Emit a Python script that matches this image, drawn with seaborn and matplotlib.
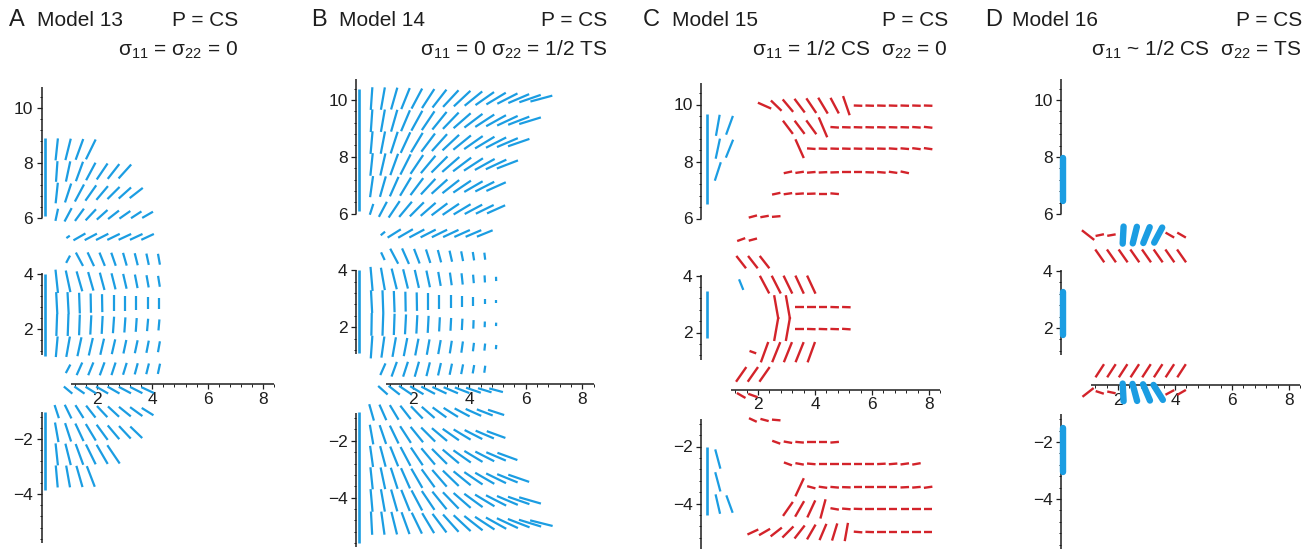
import numpy as np
import pandas as pd
import matplotlib
matplotlib.use("Agg")
import matplotlib.pyplot as plt
import seaborn as sns

sns.set_style("white")
plt.rcParams["font.family"] = ["Liberation Sans", "DejaVu Sans"]
plt.rcParams["mathtext.fontset"] = "custom"
plt.rcParams["mathtext.rm"] = "Liberation Sans"
plt.rcParams["mathtext.it"] = "Liberation Sans:italic"
plt.rcParams["mathtext.bf"] = "Liberation Sans:bold"

# ---------------- data ----------------
# rows: (y, first grid column, angles in degrees, lengths)
A_COLS = [0.55, 0.96, 1.37, 1.78, 2.19, 2.60, 3.01, 3.42, 3.83, 4.24]
A_BLUE = [
    (8.50, 0, [84, 76, 70, 64], 0.8),
    (7.70, 0, [86, 78, 70, 62, 56, 52, 48], [0.75, 0.75, 0.75, 0.72, 0.7, 0.68, 0.68]),
    (6.92, 0, [84, 72, 62, 55, 50, 45, 42, 38], [0.75, 0.72, 0.7, 0.68, 0.65, 0.62, 0.6, 0.6]),
    (6.13, 0, [78, 62, 54, 47, 42, 38, 35, 33, 30], [0.45, 0.55, 0.55, 0.55, 0.52, 0.5, 0.48, 0.45, 0.45]),
    (5.33, 1, [35, 30, 28, 27, 26, 25, 25, 25], [0.15, 0.5, 0.5, 0.5, 0.5, 0.5, 0.5, 0.5]),
    (4.52, 1, [62, 118, 115, 112, 109, 106, 104, 102, 100], [0.3, 0.55, 0.55, 0.52, 0.5, 0.48, 0.45, 0.42, 0.4]),
    (3.72, 0, [96, 102, 106, 106, 105, 104, 103, 101, 100, 99], [0.85, 0.8, 0.75, 0.7, 0.65, 0.6, 0.55, 0.5, 0.45, 0.4]),
    (2.93, 0, [93, 93, 92, 91, 91, 90, 90, 90, 90, 90], [0.8, 0.8, 0.75, 0.7, 0.65, 0.6, 0.55, 0.5, 0.45, 0.4]),
    (2.14, 0, [88, 88, 88, 87, 87, 86, 86, 86, 85, 85], [0.8, 0.8, 0.75, 0.7, 0.65, 0.6, 0.55, 0.5, 0.45, 0.4]),
    (1.35, 0, [85, 80, 78, 77, 77, 77, 78, 78, 79, 80], [0.75, 0.75, 0.7, 0.65, 0.6, 0.55, 0.5, 0.48, 0.45, 0.4]),
    (0.55, 1, [62, 66, 68, 70, 72, 73, 75, 76, 78], [0.35, 0.5, 0.5, 0.5, 0.48, 0.45, 0.42, 0.4, 0.38]),
    (-0.22, 1, [140, 145, 148, 150, 150, 152, 153, 155], [0.4, 0.45, 0.45, 0.5, 0.5, 0.5, 0.5, 0.5]),
    (-1.00, 0, [108, 116, 122, 128, 133, 137, 141, 144, 148], [0.5, 0.55, 0.55, 0.55, 0.55, 0.55, 0.55, 0.55, 0.5]),
    (-1.75, 0, [100, 108, 115, 121, 126, 130, 133, 136], [0.72, 0.7, 0.7, 0.7, 0.68, 0.65, 0.62, 0.6]),
    (-2.55, 0, [96, 104, 110, 116, 120, 124], 0.8),
    (-3.35, 0, [95, 100, 106, 111], 0.8),
]

B_COLS = [0.55, 0.95, 1.35, 1.75, 2.15, 2.55, 2.95, 3.35, 3.75, 4.15, 4.55, 4.95, 5.35, 5.75, 6.15, 6.55]
B_BLUE = [
    (10.05, 0, [86, 80, 74, 68, 62, 57, 52, 47, 43, 39, 35, 31, 27, 23, 19, 15], 0.8),
    (9.27, 0, [86, 80, 74, 67, 61, 56, 51, 46, 41, 37, 33, 29, 25, 21, 17], 0.8),
    (8.50, 0, [85, 79, 72, 65, 59, 53, 48, 43, 39, 35, 31, 27, 23, 19], 0.8),
    (7.73, 0, [84, 77, 70, 63, 56, 50, 45, 41, 37, 33, 29, 25, 21], 0.8),
    (6.95, 0, [82, 74, 66, 59, 53, 47, 42, 38, 34, 30, 27, 24], 0.75),
    (6.15, 0, [72, 62, 56, 50, 45, 41, 37, 34, 31, 28, 26, 24], [0.4, 0.6, 0.7, 0.7, 0.7, 0.7, 0.7, 0.7, 0.7, 0.7, 0.7, 0.7]),
    (5.30, 1, [40, 32, 30, 28, 27, 26, 25, 24, 23, 22], [0.2, 0.55, 0.6, 0.6, 0.6, 0.6, 0.6, 0.6, 0.6, 0.6]),
    (4.50, 1, [115, 118, 114, 111, 108, 105, 103, 101, 99, 97], [0.3, 0.6, 0.6, 0.55, 0.5, 0.45, 0.4, 0.35, 0.3, 0.25]),
    (3.70, 0, [95, 100, 104, 104, 103, 102, 100, 98, 96, 95, 93, 92], [0.85, 0.8, 0.75, 0.7, 0.65, 0.6, 0.5, 0.45, 0.4, 0.3, 0.25, 0.15]),
    (2.90, 0, [93, 92, 92, 91, 91, 90, 90, 90, 90, 90, 90, 90], [0.8, 0.8, 0.75, 0.7, 0.65, 0.6, 0.5, 0.45, 0.4, 0.3, 0.2, 0.12]),
    (2.10, 0, [89, 88, 88, 87, 87, 87, 87, 87, 87, 88, 88, 88], [0.8, 0.8, 0.75, 0.7, 0.65, 0.6, 0.5, 0.45, 0.4, 0.3, 0.2, 0.12]),
    (1.30, 0, [86, 82, 80, 79, 79, 80, 80, 81, 82, 83, 84, 85], [0.8, 0.75, 0.7, 0.65, 0.6, 0.55, 0.5, 0.45, 0.4, 0.3, 0.25, 0.15]),
    (0.52, 1, [66, 70, 72, 74, 76, 77, 78, 79, 80, 82], [0.45, 0.55, 0.55, 0.55, 0.5, 0.45, 0.4, 0.35, 0.3, 0.25]),
    (-0.22, 1, [138, 142, 146, 149, 152, 155, 157, 159, 161, 163, 165], [0.45, 0.5, 0.55, 0.55, 0.55, 0.55, 0.55, 0.55, 0.55, 0.5, 0.5]),
    (-1.00, 0, [106, 114, 121, 128, 134, 139, 144, 148, 152, 156, 159, 162], 0.6),
    (-1.78, 0, [100, 109, 116, 123, 129, 135, 140, 145, 149, 153, 157, 160], 0.7),
    (-2.55, 0, [98, 105, 112, 118, 124, 130, 135, 140, 145, 149, 153, 157, 160], 0.75),
    (-3.32, 0, [96, 102, 108, 114, 120, 126, 131, 136, 141, 146, 150, 154, 158, 161], 0.78),
    (-4.10, 0, [95, 100, 106, 112, 118, 124, 129, 134, 139, 144, 149, 153, 157, 161, 164], 0.8),
    (-4.90, 0, [93, 98, 104, 110, 116, 121, 127, 132, 137, 142, 147, 151, 155, 159, 163, 166], 0.82),
]

C_COLS = [0.59, 1.00, 1.41, 1.82, 2.23, 2.64, 3.05, 3.46, 3.87, 4.28, 4.69, 5.10,
          5.51, 5.92, 6.33, 6.74, 7.15, 7.56, 7.97]
C_RED = [
    (9.96, 4, [156, 136, 130, 127, 124, 121, 118, 109], [0.51, 0.52, 0.57, 0.6, 0.62, 0.65, 0.62, 0.71]),
    (9.96, 12, [178, 178, 178, 178, 178, 178, 178], 0.3),
    (9.20, 6, [127, 127, 126, 113], [0.58, 0.58, 0.6, 0.76]),
    (9.20, 10, [176, 178, 178, 178, 178, 178, 178, 176, 174], 0.3),
    (8.45, 7, [114], 0.72),
    (8.45, 8, [176, 178, 178, 178, 178, 178, 178, 176, 175, 173, 172], 0.3),
    (7.62, 6, [12, 8, 5, 3, 2, 0, 0, 178, 175, 172, 168], 0.3),
    (6.87, 5, [12, 8, 4, 2, 0, 175], 0.3),
    (6.07, 3, [15, 10, 5], 0.3),
    (5.26, 2, [20, 15], 0.3),
    (4.47, 2, [128, 128, 128], 0.55),
    (3.68, 4, [118, 117, 116, 115, 115], 0.7),
    (2.89, 5, [100, 100], 0.85),
    (2.89, 7, [0, 0, 0, 178, 178], 0.3),
    (2.12, 5, [80, 80], 0.85),
    (2.12, 7, [0, 178, 178, 178, 176], 0.3),
    (1.31, 3, [160], 0.25),
    (1.31, 4, [70, 68, 68, 68, 70], 0.76),
    (0.53, 2, [55, 55, 55], 0.63),
    (-0.21, 2, [150, 160], 0.35),
    (-1.07, 3, [155, 165, 175], 0.3),
    (-1.85, 5, [160, 170, 175, 180, 180, 5], 0.3),
    (-2.61, 6, [160, 170, 175, 180, 180, 180, 180, 180, 3, 5, 8, 10], 0.3),
    (-3.43, 7, [65], 0.7),
    (-3.43, 8, [165, 172, 175, 178, 180, 180, 180, 180, 3, 5, 8], 0.3),
    (-4.19, 6, [55, 60, 65, 75], [0.6, 0.63, 0.66, 0.7]),
    (-4.19, 10, [170, 175, 178, 180, 180, 180, 180, 180, 180], 0.3),
    (-5.00, 3, [25, 30, 38, 45, 52, 60, 67, 73, 80], [0.42, 0.45, 0.5, 0.55, 0.58, 0.6, 0.62, 0.63, 0.65]),
    (-5.00, 12, [175, 178, 180, 180, 180, 180, 180], 0.3),
]
C_BLUE = [
    (9.27, 0, [80, 70], [0.75, 0.7]),
    (8.45, 0, [78, 68], [0.72, 0.68]),
    (7.65, 0, [72], 0.68),
    (3.68, 2, [112], 0.4),
    (-2.44, 0, [105], 0.7),
    (-3.24, 0, [105], 0.7),
    (-4.02, 0, [103, 110], [0.7, 0.65]),
]

D_COLS = [0.95, 1.36, 1.77, 2.18, 2.59, 3.00, 3.41, 3.82, 4.23]
D_RED = [
    (5.26, 0, [142, 12, 10], [0.55, 0.3, 0.3]),
    (5.26, 7, [150, 150], 0.35),
    (4.53, 1, [125, 125, 125, 125, 125, 125, 125, 125], 0.55),
    (0.50, 1, [57, 57, 57, 57, 57, 57, 57, 57], 0.55),
    (-0.26, 0, [38, 162, 168], [0.5, 0.3, 0.3]),
    (-0.26, 7, [28, 30], 0.35),
]
D_THICK = [
    (5.26, 3, [87, 76, 68, 62], 0.6),
    (-0.26, 3, [93, 105, 113, 122], 0.62),
]

# fault traces along x ~ 0: (x, [(y_bottom, y_top), ...])
FAULTS = {
    "A": (0.13, [(6.1, 8.9), (1.0, 4.0), (-3.85, -1.0)]),
    "B": (0.10, [(6.1, 10.4), (1.1, 4.0), (-5.6, -1.0)]),
    "C": (0.20, [(6.5, 9.65), (1.8, 3.45), (-4.4, -2.0)]),
    "D": (0.08, [(6.45, 7.95), (1.75, 3.25), (-3.05, -1.5)]),
}

PANELS = ["A", "B", "C", "D"]
MODELS = ["Model 13", "Model 14", "Model 15", "Model 16"]
P_LABEL = "P = CS"
SIGMA_LABELS = [
    "σ$_{11}$ = σ$_{22}$ = 0",
    "σ$_{11}$ = 0 σ$_{22}$ = 1/2 TS",
    "σ$_{11}$ = 1/2 CS  σ$_{22}$ = 0",
    "σ$_{11}$ ~ 1/2 CS  σ$_{22}$ = TS",
]
Y_TICKS = [-4, -2, 2, 4, 6, 8, 10]
Y_TICK_LABELS = ["−4", "−2", "2", "4", "6", "8", "10"]
X_TICKS = [2, 4, 6, 8]
X_TICK_LABELS = ["2", "4", "6", "8"]

# ---------------- build segment table ----------------
records = []
seg_counter = [0]


def add_rows(panel, kind, grid, spec):
    for (yc, c0, angs, lens) in spec:
        if np.isscalar(lens):
            lens = [lens] * len(angs)
        for i, (a, L) in enumerate(zip(angs, lens)):
            xc = grid[c0 + i]
            t = np.deg2rad(a)
            dx, dy = 0.5 * L * np.cos(t), 0.5 * L * np.sin(t)
            sid = seg_counter[0]
            seg_counter[0] += 1
            records.append(dict(panel=panel, kind=kind, seg=sid, x=xc - dx, y=yc - dy))
            records.append(dict(panel=panel, kind=kind, seg=sid, x=xc + dx, y=yc + dy))


def add_faults(panel, kind):
    fx, spans = FAULTS[panel]
    for (y0, y1) in spans:
        sid = seg_counter[0]
        seg_counter[0] += 1
        records.append(dict(panel=panel, kind=kind, seg=sid, x=fx, y=y0))
        records.append(dict(panel=panel, kind=kind, seg=sid, x=fx, y=y1))


add_rows("A", "blue", A_COLS, A_BLUE)
add_rows("B", "blue", B_COLS, B_BLUE)
add_rows("C", "red", C_COLS, C_RED)
add_rows("C", "blue", C_COLS, C_BLUE)
add_rows("D", "red", D_COLS, D_RED)
add_rows("D", "thick", D_COLS, D_THICK)
add_faults("A", "fault")
add_faults("B", "fault")
add_faults("C", "fault")
add_faults("D", "thickfault")
df = pd.DataFrame(records)

BLUE = "#1b9de2"
RED = "#d3232a"
STYLE = {
    "blue": dict(color=BLUE, linewidth=1.6, solid_capstyle="butt"),
    "red": dict(color=RED, linewidth=1.7, solid_capstyle="butt"),
    "fault": dict(color=BLUE, linewidth=1.9, solid_capstyle="butt"),
    "thick": dict(color=BLUE, linewidth=4.6, solid_capstyle="round"),
    "thickfault": dict(color=BLUE, linewidth=4.6, solid_capstyle="round"),
}

# ---------------- layout ----------------
W, H = 1312, 549
LAYOUT = {"A": (41.5, 384.0, 27.7, 27.6), "B": (356.0, 384.0, 28.3, 28.4),
          "C": (701.0, 389.5, 28.5, 28.5), "D": (1061.0, 385.0, 28.5, 28.5)}
XL = (-1.2, 8.7)
YL = (-5.9, 10.9)
Y_AXIS_SEGS = [(6.0, 10.75), (1.05, 4.02), (-5.75, -1.02)]
X_AXIS_SEG = (1.05, 8.4)
TITLE_POS = {"A": (9, 37, 238), "B": (311, 339, 607), "C": (643, 672, 948), "D": (985, 1012, 1302)}
INK = "#1e1e1e"

fig = plt.figure(figsize=(W / 100, H / 100), dpi=100)

for p_i, p in enumerate(PANELS):
    x0, y0, sx, sy = LAYOUT[p]
    left = x0 + XL[0] * sx
    right = x0 + XL[1] * sx
    top = y0 - YL[1] * sy
    bottom = y0 - YL[0] * sy
    ax = fig.add_axes([left / W, 1 - bottom / H, (right - left) / W, (bottom - top) / H])
    ax.patch.set_visible(False)

    sub = df[df.panel == p]
    for kind in ["fault", "thickfault", "blue", "red", "thick"]:
        d = sub[sub.kind == kind]
        if len(d) == 0:
            continue
        sns.lineplot(data=d, x="x", y="y", units="seg", estimator=None, sort=False,
                     ax=ax, legend=False, **STYLE[kind])

    # broken axis lines
    for (a, b) in Y_AXIS_SEGS:
        ax.plot([0, 0], [a, b], color=INK, linewidth=1.1, solid_capstyle="butt", zorder=1)
    ax.plot([X_AXIS_SEG[0], X_AXIS_SEG[1]], [0, 0], color=INK, linewidth=1.1,
            solid_capstyle="butt", zorder=1)

    ax.set_xlim(*XL)
    ax.set_ylim(*YL)
    ax.set_xlabel("")
    ax.set_ylabel("")
    for s in ax.spines.values():
        s.set_visible(False)
    ax.spines["left"].set_position(("data", 0))
    ax.spines["bottom"].set_position(("data", 0))

    ax.set_yticks(Y_TICKS)
    ax.set_yticklabels(Y_TICK_LABELS)
    ax.set_xticks(X_TICKS)
    ax.set_xticklabels(X_TICK_LABELS)
    yminor = []
    for (a, b) in Y_AXIS_SEGS:
        k0 = int(np.ceil(a / 0.4 - 1e-6))
        k1 = int(np.floor(b / 0.4 + 1e-6))
        yminor += [round(k * 0.4, 2) for k in range(k0, k1 + 1)]
    k0 = int(np.ceil(X_AXIS_SEG[0] / 0.4))
    k1 = int(np.floor(X_AXIS_SEG[1] / 0.4))
    xminor = [round(k * 0.4, 2) for k in range(k0, k1 + 1)]
    ax.set_yticks(yminor, minor=True)
    ax.set_xticks(xminor, minor=True)
    ax.tick_params(axis="both", which="major", direction="out", length=3.5, width=0.9,
                   color=INK, labelsize=12.5, labelcolor=INK)
    ax.tick_params(axis="y", which="major", pad=2.5)
    ax.tick_params(axis="x", which="major", pad=2.0)
    ax.tick_params(axis="both", which="minor", direction="out", length=1.8, width=0.7, color=INK)
    ax.yaxis.set_ticks_position("left")
    ax.xaxis.set_ticks_position("bottom")

    # titles
    lx, mx, rx = TITLE_POS[p]
    fig.text(lx / W, 1 - 26 / H, p, fontsize=17, color=INK, ha="left", va="baseline")
    fig.text(mx / W, 1 - 26 / H, MODELS[p_i], fontsize=15, color=INK, ha="left", va="baseline")
    fig.text(rx / W, 1 - 26 / H, P_LABEL, fontsize=15, color=INK, ha="right", va="baseline")
    fig.text(rx / W, 1 - 56 / H, SIGMA_LABELS[p_i], fontsize=15, color=INK, ha="right", va="baseline")

fig.savefig("out.png", dpi=100)
